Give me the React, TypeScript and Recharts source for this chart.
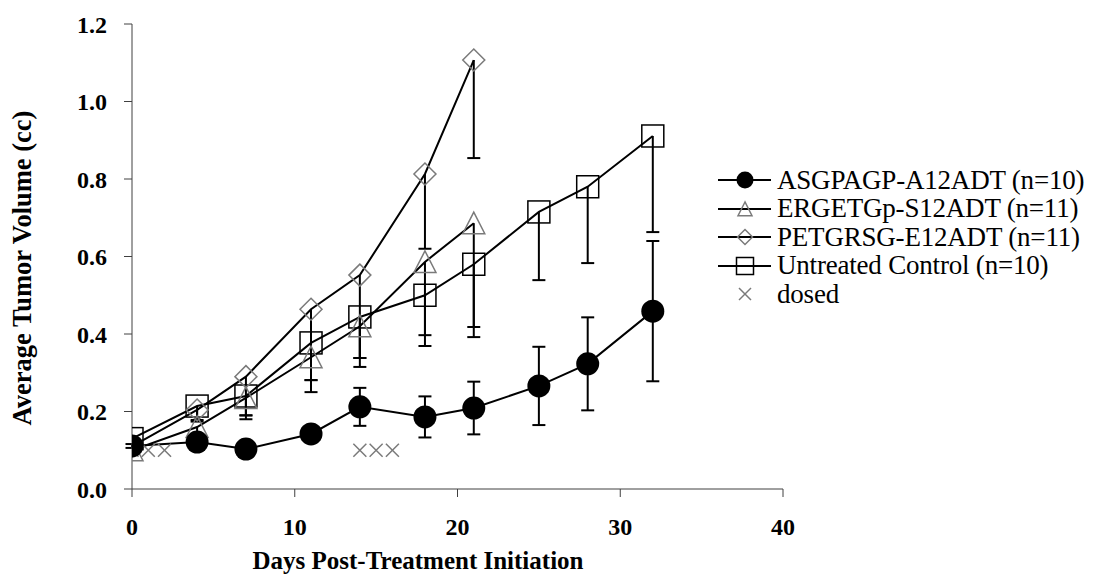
import React from 'react'
import {
    ComposedChart,
    Line,
    Scatter,
    XAxis,
    YAxis,
    ErrorBar,
    Legend,
    Label,
} from 'recharts'

// measurement days
const days = [0, 4, 7, 11, 14, 18, 21, 25, 28, 32]
const shortDays = [0, 4, 7, 11, 14, 18, 21]

// ASGPAGP-A12ADT: mean and symmetric error
const asgMean = [0.111, 0.121, 0.103, 0.142, 0.212, 0.186, 0.209, 0.266, 0.323, 0.459]
const asgErr = [0.005, 0.01, 0.008, 0.015, 0.049, 0.053, 0.068, 0.101, 0.12, 0.181]

// ERGETGp-S12ADT: mean and lower error
const ergMean = [0.1, 0.16, 0.235, 0.34, 0.42, 0.586, 0.686]
const ergLow = [0, 0.02, 0.055, 0.09, 0.105, 0.217, 0.268]

// PETGRSG-E12ADT: mean and lower error
const petMean = [0.11, 0.204, 0.29, 0.464, 0.552, 0.813, 1.107]
const petLow = [0, 0.03, 0.1, 0.183, 0.214, 0.193, 0.253]

// Untreated control: mean and lower error
const ctlMean = [0.13, 0.214, 0.24, 0.377, 0.444, 0.5, 0.58, 0.715, 0.78, 0.911]
const ctlLow = [0, 0.036, 0.05, 0.096, 0.106, 0.103, 0.188, 0.176, 0.197, 0.248]

// dosing days
const dosedDays = [0, 1, 2, 14, 15, 16]
const dosedLevel = [0.1, 0.1, 0.1, 0.1, 0.1, 0.1]

const xTicks = [0, 10, 20, 30, 40]
const yTicks = [0, 0.2, 0.4, 0.6, 0.8, 1.0, 1.2]

const legendLabels = [
    'ASGPAGP-A12ADT (n=10)',
    'ERGETGp-S12ADT (n=11)',
    'PETGRSG-E12ADT (n=11)',
    'Untreated Control (n=10)',
    'dosed',
]

const GRAY = '#7a7a7a'
const FONT = '"Liberation Serif", "Times New Roman", serif'

const toPoints = (xs: number[], ys: number[], lo: number[], hi: number[]) =>
    xs.map((x, i) => ({ x, y: ys[i], err: [lo[i], hi[i]] }))

const toCaps = (xs: number[], ys: number[], lo: number[]) =>
    xs.map((x, i) => ({ x, y: ys[i] - lo[i], d: lo[i] })).filter(p => p.d > 0.005)

const asgData = toPoints(days, asgMean, asgErr, asgErr)
const ergData = toPoints(shortDays, ergMean, ergLow, ergLow.map(() => 0))
const petData = toPoints(shortDays, petMean, petLow, petLow.map(() => 0))
const ctlData = toPoints(days, ctlMean, ctlLow, ctlLow.map(() => 0))
const capData = [
    ...toCaps(shortDays, ergMean, ergLow),
    ...toCaps(shortDays, petMean, petLow),
    ...toCaps(days, ctlMean, ctlLow),
]
const dosedData = dosedDays.map((x, i) => ({ x, y: dosedLevel[i] }))

type Kind = 'circle' | 'triangle' | 'diamond' | 'square' | 'x'

// marker drawing, s = half size
const Marker = ({ kind, cx, cy, s }: { kind: Kind; cx: number; cy: number; s: number }) => {
    if (cx == null || cy == null) return null
    if (kind === 'circle') return <circle cx={cx} cy={cy} r={s} fill="#000" />
    if (kind === 'triangle')
        return (
            <polygon
                points={`${cx},${cy - s} ${cx - s},${cy + s * 0.95} ${cx + s},${cy + s * 0.95}`}
                fill="none"
                stroke={GRAY}
                strokeWidth={1.5}
            />
        )
    if (kind === 'diamond')
        return (
            <polygon
                points={`${cx},${cy - s} ${cx + s},${cy} ${cx},${cy + s} ${cx - s},${cy}`}
                fill="none"
                stroke={GRAY}
                strokeWidth={1.5}
            />
        )
    if (kind === 'square')
        return <rect x={cx - s} y={cy - s} width={s * 2} height={s * 2} fill="none" stroke="#000" strokeWidth={1.5} />
    return (
        <g stroke={GRAY} strokeWidth={1.5}>
            <line x1={cx - s} y1={cy - s} x2={cx + s} y2={cy + s} />
            <line x1={cx - s} y1={cy + s} x2={cx + s} y2={cy - s} />
        </g>
    )
}

const dotFor = (kind: Kind, s: number) => (props: any) => (
    <Marker key={`${kind}-${props.index}`} kind={kind} cx={props.cx} cy={props.cy} s={s} />
)

const CapShape = (props: any) => (
    <line x1={props.cx - 6.5} x2={props.cx + 6.5} y1={props.cy} y2={props.cy} stroke="#000" strokeWidth={2} />
)

const CrossShape = (props: any) => <Marker kind="x" cx={props.cx} cy={props.cy} s={6.5} />

const legendKinds: Kind[] = ['circle', 'triangle', 'diamond', 'square', 'x']
const legendSizes = [8.5, 7, 7.5, 8.5, 6]

const CustomLegend = () => (
    <div style={{ fontFamily: FONT, fontSize: 27, color: '#000', lineHeight: 1 }}>
        {legendLabels.map((name, i) => (
            <div key={name} style={{ display: 'flex', alignItems: 'center', height: 28.5, whiteSpace: 'nowrap' }}>
                <svg width={54} height={28} style={{ overflow: 'visible', flex: 'none' }}>
                    {legendKinds[i] !== 'x' && <line x1={0} x2={53} y1={14} y2={14} stroke="#000" strokeWidth={2} />}
                    <Marker kind={legendKinds[i]} cx={27} cy={14} s={legendSizes[i]} />
                </svg>
                <span style={{ marginLeft: 5, letterSpacing: -0.2 }}>{name}</span>
            </div>
        ))}
    </div>
)

const tickStyle = { fontFamily: FONT, fontSize: 24, fontWeight: 700, fill: '#000' }

export default function App() {
    return (
        <div style={{ position: 'absolute', left: 0, top: 0, width: 1093, height: 581, background: '#fff' }}>
            <ComposedChart width={1093} height={581} margin={{ top: 24, right: 310, bottom: 0, left: 72 }}>
                <XAxis
                    type="number"
                    dataKey="x"
                    domain={[0, 40]}
                    ticks={xTicks}
                    allowDataOverflow
                    height={92}
                    tickSize={8}
                    tickMargin={21}
                    stroke="#404040"
                    tick={tickStyle}
                >
                    <Label
                        content={() => (
                            <text x={418} y={569} textAnchor="middle" style={{ ...tickStyle, fontSize: 25 }}>
                                Days Post-Treatment Initiation
                            </text>
                        )}
                    />
                </XAxis>
                <YAxis
                    type="number"
                    domain={[0, 1.2]}
                    ticks={yTicks}
                    width={60}
                    tickSize={8}
                    tickMargin={17}
                    stroke="#404040"
                    tick={tickStyle}
                    tickFormatter={(v: number) => v.toFixed(1)}
                >
                    <Label
                        content={() => (
                            <text
                                x={31}
                                y={268}
                                textAnchor="middle"
                                transform="rotate(-90 31 268)"
                                style={{ ...tickStyle, fontSize: 26.5 }}
                            >
                                Average Tumor Volume (cc)
                            </text>
                        )}
                    />
                </YAxis>
                <Legend layout="vertical" align="center" verticalAlign="middle" content={CustomLegend}
                    wrapperStyle={{ left: 718, top: 166, width: 375, height: 145 }} />

                <Line data={ctlData} dataKey="y" stroke="#000" strokeWidth={2} dot={dotFor('square', 11)}
                    activeDot={false} isAnimationActive={false}>
                    <ErrorBar dataKey="err" direction="y" width={0} stroke="#000" strokeWidth={2} />
                </Line>
                <Line data={petData} dataKey="y" stroke="#000" strokeWidth={2} dot={dotFor('diamond', 11)}
                    activeDot={false} isAnimationActive={false}>
                    <ErrorBar dataKey="err" direction="y" width={0} stroke="#000" strokeWidth={2} />
                </Line>
                <Line data={ergData} dataKey="y" stroke="#000" strokeWidth={2} dot={dotFor('triangle', 11)}
                    activeDot={false} isAnimationActive={false}>
                    <ErrorBar dataKey="err" direction="y" width={0} stroke="#000" strokeWidth={2} />
                </Line>
                <Scatter data={capData} dataKey="y" shape={CapShape} isAnimationActive={false} />
                <Scatter data={dosedData} dataKey="y" shape={CrossShape} isAnimationActive={false} />
                <Line data={asgData} dataKey="y" stroke="#000" strokeWidth={2} dot={dotFor('circle', 11.5)}
                    activeDot={false} isAnimationActive={false}>
                    <ErrorBar dataKey="err" direction="y" width={6.5} stroke="#000" strokeWidth={2} />
                </Line>
            </ComposedChart>
        </div>
    )
}
